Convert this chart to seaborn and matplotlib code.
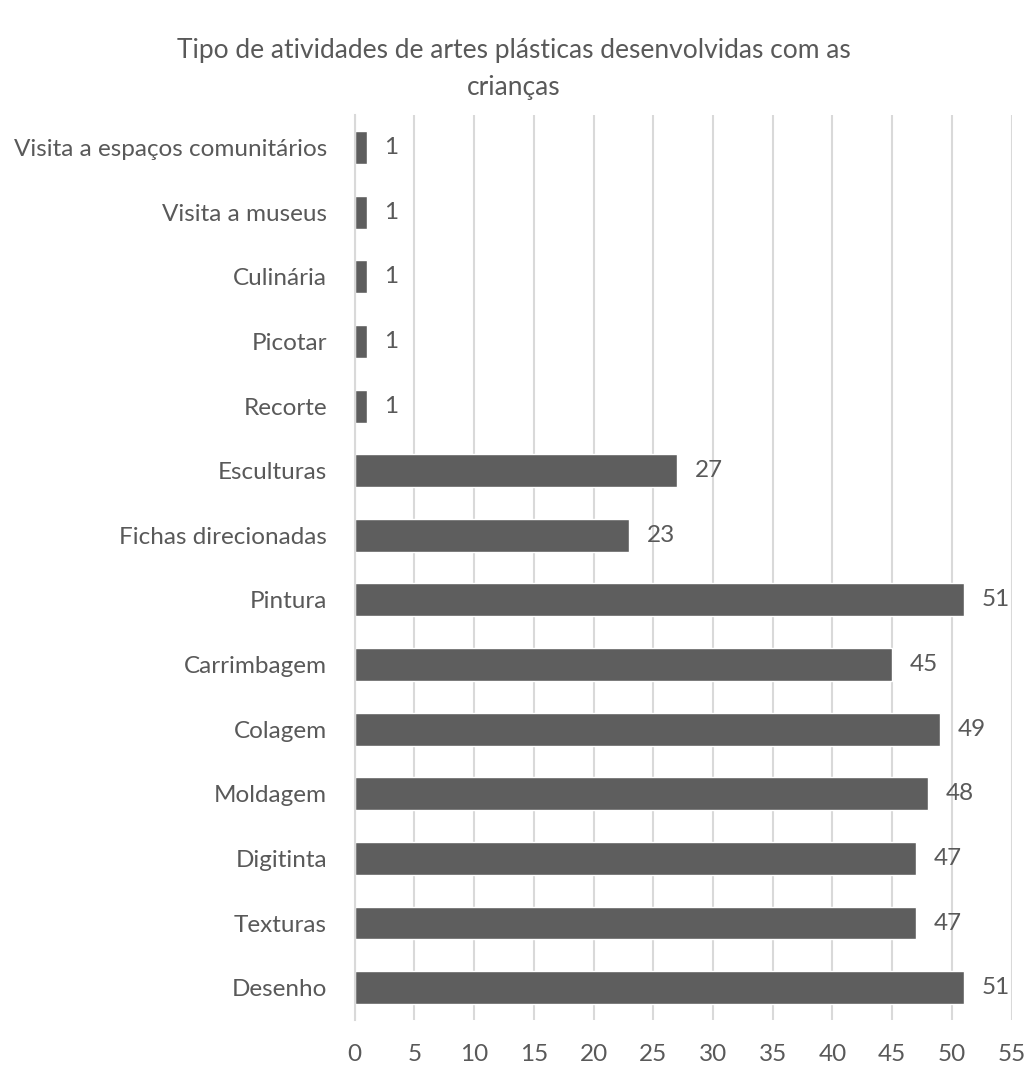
import numpy as np
import pandas as pd
import matplotlib
matplotlib.use("Agg")
import matplotlib.pyplot as plt
import seaborn as sns

# categories top to bottom as in the chart
categorias = ["Visita a espaços comunitários", "Visita a museus", "Culinária", "Picotar",
              "Recorte", "Esculturas", "Fichas direcionadas", "Pintura", "Carrimbagem",
              "Colagem", "Moldagem", "Digitinta", "Texturas", "Desenho"]
valores = [1, 1, 1, 1, 1, 27, 23, 51, 45, 49, 48, 47, 47, 51]
x_ticks = list(range(0, 56, 5))

df = pd.DataFrame({"atividade": categorias, "n": valores})

sns.set_style("white")
plt.rcParams['font.family'] = ['Lato', 'DejaVu Sans']

cor_texto = "#595959"
cor_grelha = "#d9d9d9"
fs = 17.5

fig = plt.figure(figsize=(10.28, 10.68), dpi=100)
ax = fig.add_axes([0.345, 0.045, 0.639, 0.847])

sns.barplot(data=df, y="atividade", x="n", order=categorias, color="#5e5e5e",
            saturation=1, width=0.51, ax=ax)

ax.set_xlim(0, 55)
ax.set_ylim(len(categorias) - 0.5, -0.5)
ax.set_xticks(x_ticks)
ax.xaxis.grid(True, color=cor_grelha, linewidth=1.5)
ax.set_axisbelow(True)
ax.set_xlabel("")
ax.set_ylabel("")

for s in ["top", "right", "bottom"]:
    ax.spines[s].set_visible(False)
ax.spines["left"].set_color(cor_grelha)
ax.spines["left"].set_linewidth(1.5)

ax.tick_params(axis="x", length=0, labelsize=fs, labelcolor=cor_texto, pad=17)
ax.tick_params(axis="y", which="major", length=0, labelsize=fs, labelcolor=cor_texto, pad=20)
ax.set_yticks(np.arange(-0.5, len(categorias), 1), minor=True)
ax.tick_params(axis="y", which="minor", length=7, color=cor_grelha, width=1.5)

for i, v in enumerate(valores):
    ax.text(v + 1.5, i, str(v), va="center", ha="left", fontsize=fs, color=cor_texto)

fig.suptitle("Tipo de atividades de artes plásticas desenvolvidas com as\ncrianças",
             x=0.5, y=0.964, fontsize=19, color=cor_texto, linespacing=1.6)

fig.savefig("out.png", dpi=100)
